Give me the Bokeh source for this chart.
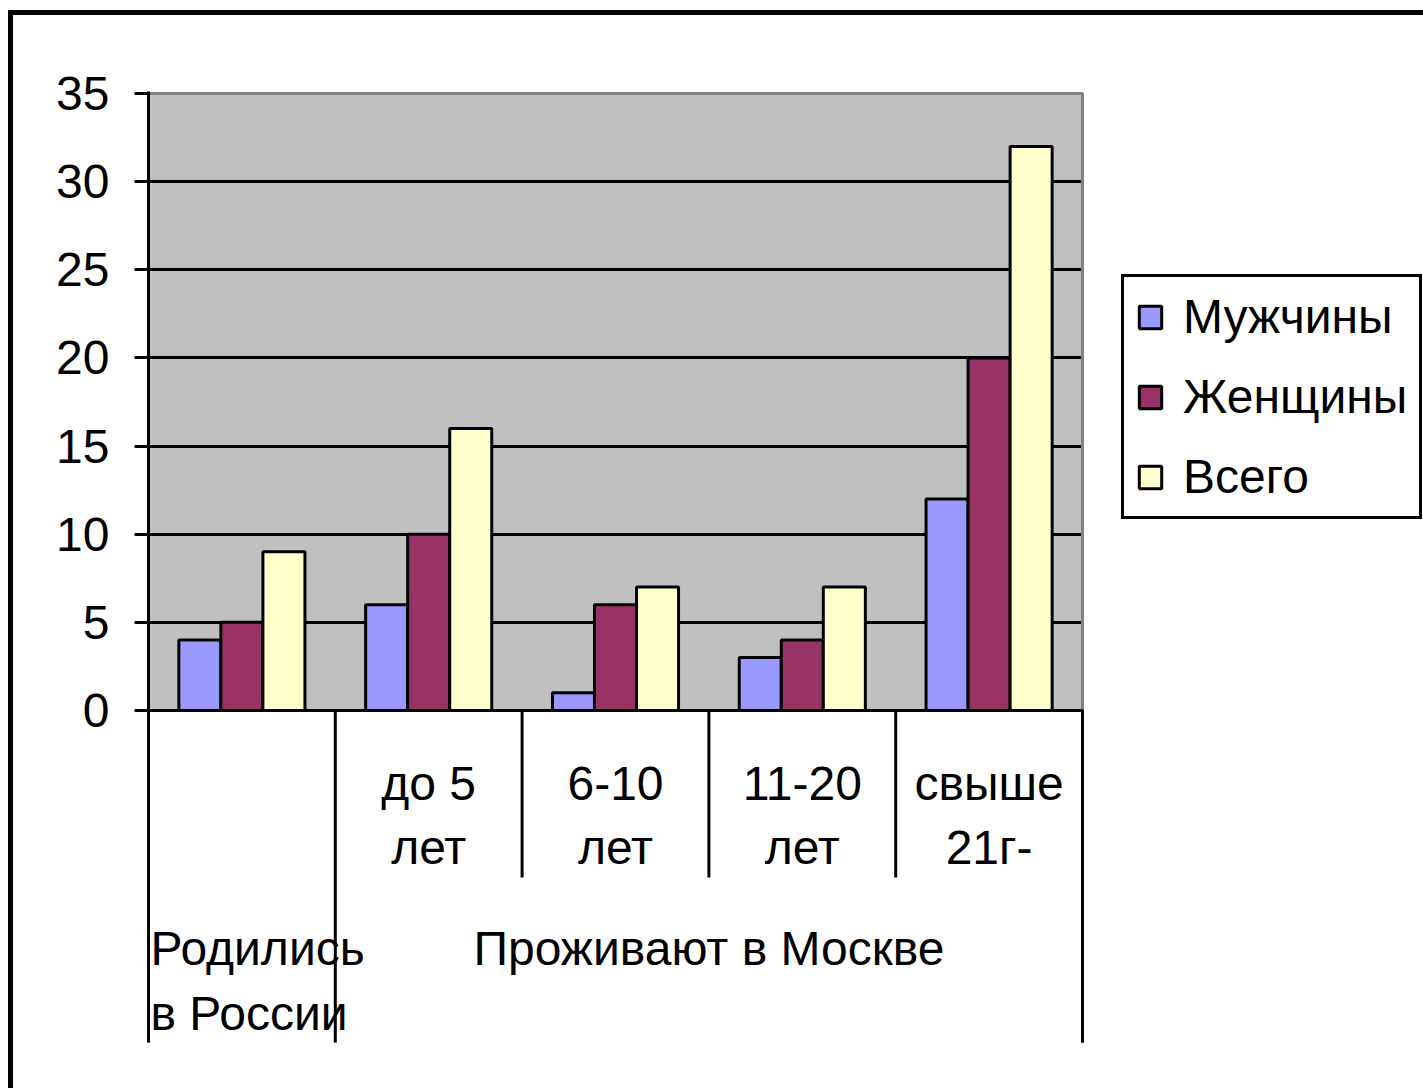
from bokeh.plotting import figure
from bokeh.models import Range1d, FixedTicker, Legend, LegendItem
from bokeh.core.properties import value
from bokeh.embed import file_html
from bokeh.resources import INLINE

# ---------------- data ----------------
group_labels = [["Родились", "в России"], ["Проживают в Москве"]]
group_sizes = [1, 4]
sub_labels = [[], ["до 5", "лет"], ["6-10", "лет"], ["11-20", "лет"], ["свыше", "21г-"]]
series_names = ["Мужчины", "Женщины", "Всего"]
men = [4, 6, 1, 3, 12]
women = [5, 10, 6, 4, 20]
total = [9, 16, 7, 7, 32]
y_ticks = [0, 5, 10, 15, 20, 25, 30, 35]

# ---------------- style / layout ----------------
colors = ["#9999FF", "#993366", "#FFFFCC"]
FONT = "Liberation Sans"
FS = "48px"
W, H = 1423, 1088
FL = 148                   # frame left = value axis position
PX = 617 / 35.0            # pixels per unit on y
PXX = 934 / 5.0            # pixels per category on x
y_top = 35 + 2 / PX
y_bot = -(1042 - 710) / PX
x_end = 5 + (W - 1082) / PXX

n = len(men)
p = figure(width=W, height=H, output_backend="svg", toolbar_location=None,
           x_range=Range1d(0, x_end), y_range=Range1d(y_bot, y_top),
           x_axis_location=None, min_border_left=FL, min_border_top=91,
           min_border_bottom=H - 1042, min_border_right=0)
p.outline_line_color = None
p.background_fill_color = "white"
p.border_fill_color = None
p.styles = {"box-shadow": "inset 8px 10px 0 0 white, inset 13px 15px 0 0 black"}

p.xgrid.visible = False
p.ygrid.ticker = FixedTicker(ticks=y_ticks)
p.ygrid.grid_line_color = "black"
p.ygrid.grid_line_width = 3

ax = p.yaxis[0]
ax.ticker = FixedTicker(ticks=y_ticks)
ax.axis_line_color = "black"
ax.axis_line_width = 3
ax.major_tick_line_width = 3
ax.major_tick_out = 14
ax.major_tick_in = 0
ax.minor_tick_line_color = None
ax.major_label_text_font = FONT
ax.major_label_text_font_size = FS
ax.major_label_text_color = "black"
ax.major_label_standoff = 25

# grey plot area (below the grid)
bg = p.quad(left=[0], right=[n], bottom=[0], top=[max(y_ticks)],
            fill_color="#C0C0C0", line_color=None)
bg.level = "image"
# white area right of the plot area (hides grid lines there)
p.quad(left=[n], right=[x_end + 1], bottom=[y_bot - 5], top=[y_top + 1],
       fill_color="white", line_color=None)
# plot area border (grey) and white area below zero
p.quad(left=[0], right=[n], bottom=[0], top=[max(y_ticks)], fill_color=None,
       line_color="#808080", line_width=3)
p.quad(left=[0], right=[n], bottom=[y_bot - 5], top=[0], fill_color="white",
       line_color="black", line_width=3)

# bars
bw = 0.225
offsets = [-bw, 0, bw]
rends = []
for vals, c, off in zip([men, women, total], colors, offsets):
    r = p.vbar(x=[i + 0.5 + off for i in range(n)], top=vals, width=bw,
               fill_color=c, line_color="black", line_width=3)
    rends.append(r)

# separators below the axis
sep_x, sep_y = [], []
bounds = set()
acc = 0
for g in group_sizes:
    acc += g
    bounds.add(acc)
shallow = -(877 - 710) / PX
for i in range(1, n + 1):
    sep_x.append(i)
    sep_y.append(y_bot - 5 if i in bounds else shallow)
p.segment(x0=sep_x, y0=[0] * len(sep_x), x1=sep_x, y1=sep_y,
          line_color="black", line_width=3)

# category labels
lab1 = -(783 - 710) / PX
dl = 64 / PX
tx, ty, tt = [], [], []
for i, lines in enumerate(sub_labels):
    for k, s in enumerate(lines):
        tx.append(i + 0.5)
        ty.append(lab1 - k * dl)
        tt.append(s)
glab = -(948 - 710) / PX
lx, ly, lt = [], [], []
start = 0
for g, lines in zip(group_sizes, group_labels):
    for k, s in enumerate(lines):
        if start == 0:
            # first group label is wider than its cell: start it at the axis
            lx.append(start + 2 / PXX)
            ly.append(glab - k * (65 / PX))
            lt.append(s)
        else:
            tx.append(start + g / 2.0)
            ty.append(glab - k * (65 / PX))
            tt.append(s)
    start += g
p.text(x=tx, y=ty, text=tt, text_font=value(FONT), text_font_size=FS,
       text_align="center", text_baseline="middle", text_color="black")
p.text(x=lx, y=ly, text=lt, text_font=value(FONT), text_font_size=FS,
       text_align="left", text_baseline="middle", text_color="black")

legend = Legend(items=[LegendItem(label=nm, renderers=[r]) for nm, r in zip(series_names, rends)],
                location=(1121 - FL, 1042 - 519))
legend.border_line_color = "black"
legend.border_line_alpha = 1
legend.border_line_width = 3
legend.background_fill_color = "white"
legend.background_fill_alpha = 1
legend.label_text_font = FONT
legend.label_text_font_size = FS
legend.label_text_color = "black"
legend.glyph_width = 28
legend.glyph_height = 28
legend.label_standoff = 19
legend.padding = 12
legend.spacing = 25
legend.margin = 0
p.add_layout(legend, "center")

open("out.html", "w").write(file_html(p, INLINE))
